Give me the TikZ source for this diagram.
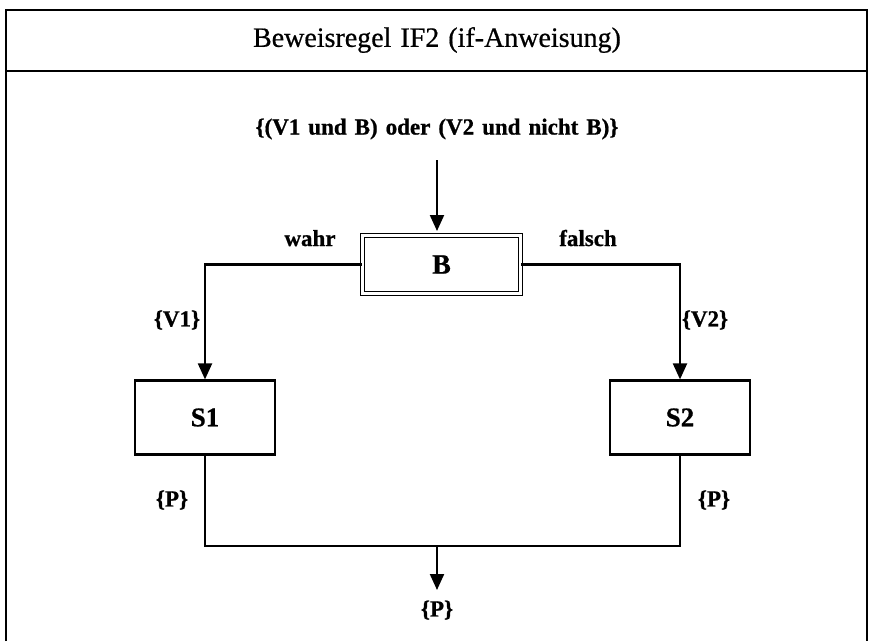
\documentclass[tikz,border=0pt]{standalone}
\usepackage{fontspec}
\setmainfont{Liberation Serif}[BoldFeatures={FakeBold=0.8}]
\newfontfamily\titlefont[FakeBold=0.6]{Liberation Serif}
\usetikzlibrary{arrows.meta}
\tikzset{
  lbl/.style={inner sep=0pt, font=\fontsize{23}{27}\selectfont\bfseries, execute at begin node={\spaceskip=8pt plus 2pt\relax}},
  titlelbl/.style={inner sep=0pt, font=\titlefont\fontsize{28}{32}\selectfont, execute at begin node={\spaceskip=9pt plus 2pt\relax}},
  stmt/.style={draw, line width=2.2pt, minimum width=140pt, minimum height=74pt, inner sep=0pt, font=\fontsize{27}{31}\selectfont\bfseries},
  condbox/.style={draw, line width=1.6pt, double, double distance=2.2pt, minimum width=158pt, minimum height=58pt, inner sep=0pt, font=\fontsize{28}{32}\selectfont\bfseries},
  conn/.style={line width=2.1pt},
  arr/.style={line width=2.1pt, -{Triangle[width=14pt,length=16pt]}},
  frameline/.style={line width=2.8pt}
}
\begin{document}
\begin{tikzpicture}[x=1pt,y=-1pt]
\useasboundingbox (0,0) rectangle (870,641);
% frame
\draw[frameline] (6,641) -- (6,10) -- (867,10) -- (867,641);
\draw[line width=2.2pt] (6,71) -- (867,71);
% title
\node[titlelbl] (title) at (437,40) {Beweisregel IF2 (if-Anweisung)};
% precondition
\node[lbl] (pre) at (437,129) {\{(V1 und B) oder (V2 und nicht B)\}};
% condition box
\node[condbox] (B) at (441.5,264.5) {B};
\node[lbl, anchor=base] (wahr) at (310,246) {wahr};
\node[lbl, anchor=base] (falsch) at (588,246) {falsch};
% statements
\node[stmt] (S1) at (205,417.5) {S1};
\node[stmt] (S2) at (680,417.5) {S2};
\node[lbl] (V1) at (177,320) {\{V1\}};
\node[lbl] (V2) at (705,320) {\{V2\}};
\node[lbl] (P1) at (172,500) {\{P\}};
\node[lbl] (P2) at (714,500) {\{P\}};
\node[lbl] (P) at (437,610) {\{P\}};
% connectors
\coordinate (jl) at (205,546);
\coordinate (jr) at (680,546);
\coordinate (jm) at (437,546);
\draw[arr] (437,160) coordinate (ps) -- (437,231);
\draw[arr] (B.west) -| (S1.north);
\draw[arr] (B.east) -| (S2.north);
\draw[conn] (S1.south) -- (jl) -- (jr) -- (S2.south);
\draw[arr] (jm) -- (437,590);
\end{tikzpicture}
\end{document}
